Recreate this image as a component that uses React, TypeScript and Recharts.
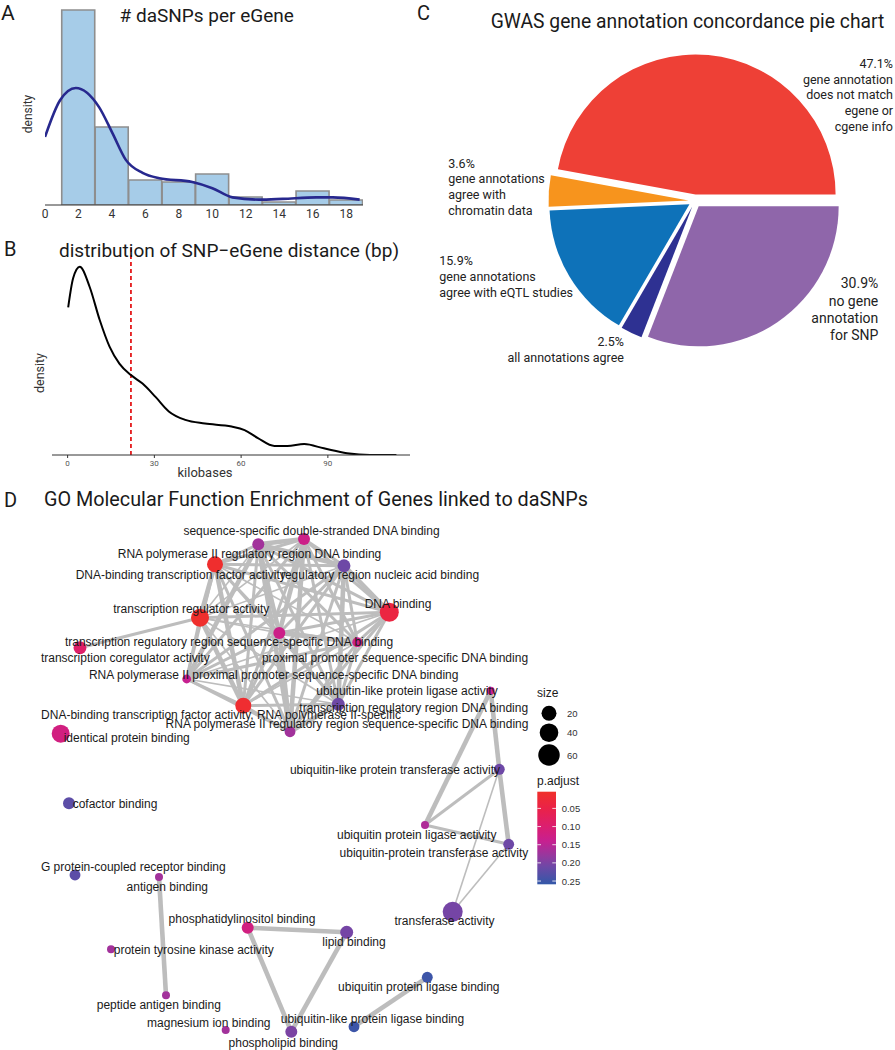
import React from "react";
import {
  Bar,
  Cell,
  ComposedChart,
  Line,
  LineChart,
  Pie,
  PieChart,
  ReferenceLine,
  Scatter,
  ScatterChart,
  XAxis,
  YAxis,
} from "recharts";

const ROBOTO = "Roboto, 'Noto Sans', sans-serif";
const HELV = "'Liberation Sans', Arial, sans-serif";

// ---- A: daSNPs per eGene (histogram, bin width 2) ----
const BIN_MIDS = [2, 4, 6, 8, 10, 12, 14, 16, 18];
const BIN_DENSITY = [0.255, 0.102, 0.0327, 0.0301, 0.0406, 0.0105, 0.0039, 0.0183, 0.0065];
const KDE_X = [0, 0.9, 1.84, 3.23, 4.03, 4.83, 5.83, 6.83, 8.8, 10, 11.2, 12.8, 14.2, 16.2, 17.2, 18.8];
const KDE_Y = [0.089, 0.137, 0.153, 0.128, 0.094, 0.059, 0.042, 0.035, 0.03, 0.022, 0.01, 0.007, 0.008, 0.01, 0.01, 0.007];
const A_TICKS = [0, 2, 4, 6, 8, 10, 12, 14, 16, 18];

// ---- B: SNP-eGene distance (kb) ----
const KB_X = [0.2, 1.9, 4.2, 7.6, 11.1, 14.5, 17.9, 21.9, 25.9, 30.4, 35, 40.7, 47.5, 56.7, 61.2, 65.8, 71.5, 76, 81.8, 88.6, 96.6, 104.6, 113.7];
const KB_DENS = [0.0244, 0.0292, 0.0311, 0.0278, 0.0223, 0.0179, 0.0151, 0.0132, 0.0118, 0.0096, 0.0072, 0.0058, 0.0052, 0.0047, 0.0041, 0.0028, 0.0015, 0.0015, 0.0018, 0.0011, 0.0003, 0, 0];
const KB_MEDIAN = 21.9;
const B_TICKS = [0, 30, 60, 90];

// ---- C: annotation concordance ----
const PIE_NAMES = [
  "gene annotation\ndoes not match\negene or\ncgene info",
  "gene annotations\nagree with\nchromatin data",
  "gene annotations\nagree with eQTL studies",
  "all annotations agree",
  "no gene\nannotation\nfor SNP",
];
const PIE_VALUES = [47.1, 3.6, 15.9, 2.5, 30.9];
const PIE_COLORS = ["#EE4036", "#F7941D", "#0E72B9", "#2E3192", "#8F66AA"];
// label placement (chart px): x, first line y, anchor, font size, line height
const PIE_LABEL_POS: [number, number, "start" | "end", number, number][] = [
  [493, 63.3, "end", 12.5, 15.8],
  [48.3, 163.3, "start", 12.5, 15.6],
  [39.3, 260, "start", 12.5, 16],
  [224, 341.7, "end", 12.5, 15.6],
  [478.3, 283.3, "end", 14, 17.2],
];

// ---- D: GO enrichment map ----
const NODE_NAMES = [
  "sequence-specific double-stranded DNA binding",
  "RNA polymerase II regulatory region DNA binding",
  "regulatory region nucleic acid binding",
  "DNA-binding transcription factor activity",
  "transcription regulator activity",
  "DNA binding",
  "transcription regulatory region sequence-specific DNA binding",
  "proximal promoter sequence-specific DNA binding",
  "transcription coregulator activity",
  "RNA polymerase II proximal promoter sequence-specific DNA binding",
  "DNA-binding transcription factor activity, RNA polymerase II-specific",
  "transcription regulatory region DNA binding",
  "RNA polymerase II regulatory region sequence-specific DNA binding",
  "identical protein binding",
  "ubiquitin-like protein ligase activity",
  "ubiquitin-like protein transferase activity",
  "ubiquitin protein ligase activity",
  "ubiquitin-protein transferase activity",
  "transferase activity",
  "cofactor binding",
  "G protein-coupled receptor binding",
  "antigen binding",
  "phosphatidylinositol binding",
  "protein tyrosine kinase activity",
  "peptide antigen binding",
  "magnesium ion binding",
  "phospholipid binding",
  "lipid binding",
  "ubiquitin protein ligase binding",
  "ubiquitin-like protein ligase binding",
];
const NODE_X = [3.04, 2.583, 3.44, 2.15, 2.0, 3.893, 2.793, 3.573, 0.8, 1.867, 2.433, 3.383, 2.9, 0.607, 4.907, 4.993, 4.25, 5.087, 4.527, 0.69, 0.75, 1.59, 2.477, 1.11, 1.66, 2.257, 2.913, 3.467, 4.273, 3.54];
const NODE_Y = [5.11, 5.057, 4.843, 4.857, 4.323, 4.377, 4.17, 4.077, 4.023, 3.71, 3.443, 3.457, 3.183, 3.163, 3.593, 2.807, 2.25, 2.057, 1.383, 2.467, 1.75, 1.73, 1.223, 1.007, 0.547, 0.2, 0.183, 1.177, 0.727, 0.233];
const NODE_SIZE = [9, 9, 12, 25, 36, 42, 9, 4, 12, 2, 25, 12, 6, 36, 1, 6, 1, 6, 49, 9, 6, 1, 9, 1, 1, 1, 9, 12, 6, 6];
const NODE_PADJ = [0.13, 0.17, 0.21, 0.01, 0.008, 0.04, 0.13, 0.13, 0.09, 0.14, 0.015, 0.21, 0.17, 0.12, 0.14, 0.21, 0.16, 0.21, 0.205, 0.225, 0.225, 0.17, 0.12, 0.17, 0.17, 0.17, 0.2, 0.205, 0.25, 0.25];
const LABEL_X = [3.115, 2.495, 3.8, 1.807, 1.913, 3.98, 2.29, 3.95, 1.253, 2.737, 2.21, 4.137, 3.47, 1.267, 4.07, 3.95, 4.167, 4.34, 4.445, 1.15, 1.333, 1.673, 2.42, 1.938, 1.588, 2.088, 2.833, 3.54, 4.188, 3.725];
const LABEL_Y = [5.193, 4.96, 4.75, 4.75, 4.407, 4.457, 4.077, 3.917, 3.917, 3.75, 3.35, 3.423, 3.26, 3.123, 3.593, 2.8, 2.15, 1.967, 1.29, 2.457, 1.827, 1.633, 1.307, 1.0, 0.45, 0.267, 0.073, 1.083, 0.633, 0.31];
// [from, to, similarity level 1-3]
const EDGES: [number, number, number][] = [
  [3, 4, 3], [3, 10, 3], [4, 10, 3], [0, 1, 3], [0, 2, 2], [0, 5, 2], [0, 6, 3], [0, 7, 2],
  [0, 9, 2], [0, 11, 2], [0, 12, 3], [0, 3, 2], [0, 4, 1], [0, 10, 2],
  [1, 2, 3], [1, 3, 2], [1, 4, 1], [1, 5, 2], [1, 6, 3], [1, 7, 2], [1, 9, 3], [1, 10, 2], [1, 11, 2], [1, 12, 3],
  [2, 3, 2], [2, 4, 1], [2, 5, 3], [2, 6, 2], [2, 7, 2], [2, 9, 2], [2, 10, 2], [2, 11, 3], [2, 12, 2],
  [3, 5, 2], [3, 6, 2], [3, 7, 1], [3, 9, 2], [3, 11, 1], [3, 12, 2],
  [4, 5, 2], [4, 6, 1], [4, 7, 1], [4, 9, 2], [4, 11, 1], [4, 12, 1], [4, 8, 2],
  [5, 6, 2], [5, 7, 2], [5, 9, 1], [5, 10, 2], [5, 11, 2], [5, 12, 2],
  [6, 7, 3], [6, 9, 2], [6, 10, 2], [6, 11, 2], [6, 12, 3],
  [7, 9, 2], [7, 10, 1], [7, 11, 2], [7, 12, 2],
  [9, 10, 2], [9, 11, 1], [9, 12, 2], [10, 11, 2], [10, 12, 2], [11, 12, 3],
  [14, 15, 3], [14, 16, 3], [15, 16, 2], [15, 17, 3], [16, 17, 2], [15, 18, 1], [17, 18, 1],
  [21, 24, 3], [22, 27, 3], [22, 26, 3], [27, 26, 3], [28, 29, 3],
];
const SIZE_LEGEND = [20, 40, 60];
const PADJ_TICKS = [0.05, 0.1, 0.15, 0.2, 0.25];
const PADJ_RANGE = [0.004, 0.259];

const P_STOPS: [number, string][] = [
  [0.004, "#F0302A"],
  [0.05, "#EA2248"],
  [0.1, "#DB1E70"],
  [0.14, "#C72090"],
  [0.18, "#96389E"],
  [0.21, "#6E48A6"],
  [0.259, "#3258A8"],
];
const EDGE_W = [0, 1.6, 3, 4.6];

function hex(c: string) {
  return [1, 3, 5].map((i) => parseInt(c.slice(i, i + 2), 16));
}
function pColor(p: number) {
  if (p <= P_STOPS[0][0]) return P_STOPS[0][1];
  for (let i = 1; i < P_STOPS.length; i++) {
    const [p1, c1] = P_STOPS[i];
    if (p <= p1) {
      const [p0, c0] = P_STOPS[i - 1];
      const t = (p - p0) / (p1 - p0);
      const a = hex(c0), b = hex(c1);
      const m = a.map((v, k) => Math.round(v + (b[k] - v) * t));
      return `rgb(${m[0]},${m[1]},${m[2]})`;
    }
  }
  return P_STOPS[P_STOPS.length - 1][1];
}
const nodeR = (s: number) => 3 + Math.sqrt(s);

function Txt({ x, y, size, children, anchor = "middle", rotate = 0, family = ROBOTO, color = "#1a1a1a" }: any) {
  const tx = anchor === "middle" ? "-50%" : anchor === "end" ? "-100%" : "0";
  return (
    <div
      style={{
        position: "absolute", left: x, top: y, fontSize: size, fontFamily: family, color,
        lineHeight: 1, whiteSpace: "nowrap", transform: `translate(${tx}, -50%) rotate(${rotate}deg)`,
      }}
    >
      {children}
    </div>
  );
}

function PanelA() {
  const bins = BIN_MIDS.map((mid, i) => ({ mid, density: BIN_DENSITY[i] }));
  const kde = KDE_X.map((x, i) => ({ x, kde: KDE_Y[i] }));
  return (
    <ComposedChart width={370} height={226} data={bins} margin={{ top: 0, right: 7, bottom: 0, left: 45 }} barCategoryGap={0}>
      <XAxis xAxisId="bins" dataKey="mid" type="number" domain={[0, 19]} allowDataOverflow hide height={0} />
      <XAxis
        xAxisId="x" dataKey="x" type="number" domain={[0, 19]} allowDataOverflow ticks={A_TICKS} interval={0}
        height={21} tickLine={false} tickSize={2} tickMargin={2} stroke="#333"
        tick={{ fontSize: 12, fill: "#333", fontFamily: ROBOTO }}
      />
      <YAxis domain={[0, 0.268]} width={0} tick={false} tickLine={false} stroke="#333" allowDataOverflow />
      <Bar xAxisId="bins" dataKey="density" fill="#A6CCE8" stroke="#8E8E8E" strokeWidth={1.6} isAnimationActive={false} />
      <Line xAxisId="x" data={kde} dataKey="kde" type="monotone" stroke="#27288E" strokeWidth={2.6} dot={false} isAnimationActive={false} />
    </ComposedChart>
  );
}

function PanelB() {
  const data = KB_X.map((kb, i) => ({ kb, d: KB_DENS[i] }));
  return (
    <LineChart width={420} height={260} data={data} margin={{ top: 28, right: 10, bottom: 0, left: 52 }}>
      <XAxis
        dataKey="kb" type="number" domain={[-5.4, 118.4]} allowDataOverflow ticks={B_TICKS} height={25}
        tickSize={3} tickMargin={2} stroke="#333" tick={{ fontSize: 8, fill: "#555", fontFamily: ROBOTO }}
      />
      <YAxis domain={[0, 0.0342]} width={0} tick={false} tickLine={false} stroke="#333" allowDataOverflow />
      <ReferenceLine x={KB_MEDIAN} stroke="#E41A1C" strokeWidth={1.8} strokeDasharray="4 3" />
      <Line dataKey="d" type="monotone" stroke="#000" strokeWidth={2} dot={false} isAnimationActive={false} />
    </LineChart>
  );
}

function PanelC() {
  const data = PIE_NAMES.map((name, i) => ({ name, value: PIE_VALUES[i] }));
  const total = PIE_VALUES.reduce((a, v) => a + v, 0);
  let acc = 0;
  const shifts = PIE_VALUES.map((v) => {
    const mid = ((acc + v / 2) / total) * 2 * Math.PI;
    acc += v;
    return [6.5 * Math.cos(mid), -6.5 * Math.sin(mid)];
  });
  const renderLabel = (props: any) => {
    const i = props.index;
    const [x, y, anchor, size, lh] = PIE_LABEL_POS[i];
    const lines = [`${PIE_VALUES[i].toFixed(1)}%`, ...PIE_NAMES[i].split("\n")];
    return (
      <g key={`lab${i}`}>
        {lines.map((t, k) => (
          <text key={k} x={x} y={y + k * lh} textAnchor={anchor} dominantBaseline="central" fontSize={size} fontFamily={ROBOTO} fill="#222">
            {t}
          </text>
        ))}
      </g>
    );
  };
  return (
    <PieChart width={495} height={400} margin={{ top: 0, right: 0, bottom: 0, left: 0 }}>
      <Pie
        data={data} dataKey="value" nameKey="name" cx={295} cy={201} outerRadius={140}
        startAngle={0} endAngle={360} stroke="none" label={renderLabel} labelLine={false} isAnimationActive={false}
      >
        {data.map((d, i) => (
          <Cell key={d.name} fill={PIE_COLORS[i]} transform={`translate(${shifts[i][0]} ${shifts[i][1]})`} />
        ))}
      </Pie>
    </PieChart>
  );
}

function PanelD() {
  const nodes = NODE_NAMES.map((name, i) => ({ name, x: NODE_X[i], y: NODE_Y[i], size: NODE_SIZE[i], p: NODE_PADJ[i] }));
  const labels = NODE_NAMES.map((name, i) => ({ name, x: LABEL_X[i], y: LABEL_Y[i] }));
  return (
    <ScatterChart width={600} height={540} margin={{ top: 0, right: 0, bottom: 0, left: 0 }}>
      <XAxis dataKey="x" type="number" domain={[0, 6]} allowDataOverflow hide />
      <YAxis dataKey="y" type="number" domain={[0, 5.4]} allowDataOverflow hide />
      {EDGES.map(([a, b, w], i) => (
        <Scatter
          key={`e${i}`}
          data={[{ x: NODE_X[a], y: NODE_Y[a] }, { x: NODE_X[b], y: NODE_Y[b] }]}
          line={{ stroke: "#BDBDBD", strokeWidth: EDGE_W[w] }}
          shape={() => <g />}
          isAnimationActive={false}
        />
      ))}
      <Scatter
        data={nodes}
        isAnimationActive={false}
        shape={(p: any) => <circle cx={p.cx} cy={p.cy} r={nodeR(p.payload.size)} fill={pColor(p.payload.p)} />}
      />
      <Scatter
        data={labels}
        isAnimationActive={false}
        shape={(p: any) => (
          <text x={p.cx} y={p.cy} textAnchor="middle" dominantBaseline="central" fontSize={12} fontFamily={HELV} fill="#1a1a1a">
            {p.payload.name}
          </text>
        )}
      />
    </ScatterChart>
  );
}

function LegendD() {
  const [lo, hi] = PADJ_RANGE;
  const top = 111.7, h = 92.6;
  const yOf = (p: number) => top + ((p - lo) / (hi - lo)) * h;
  return (
    <svg width={90} height={220} style={{ position: "absolute", left: 530, top: 680 }}>
      <defs>
        <linearGradient id="padj" x1="0" y1="0" x2="0" y2="1">
          {P_STOPS.map(([p, c]) => (
            <stop key={p} offset={(p - lo) / (hi - lo)} stopColor={c} />
          ))}
        </linearGradient>
      </defs>
      <text x={7} y={13.3} dominantBaseline="central" fontSize={12} fontFamily={HELV} fill="#1a1a1a">size</text>
      {SIZE_LEGEND.map((s, i) => (
        <g key={s}>
          <circle cx={19} cy={[33.3, 52.7, 75][i]} r={nodeR(s)} fill="#000" />
          <text x={37} y={[33.3, 52.7, 75][i]} dominantBaseline="central" fontSize={9.5} fontFamily={HELV} fill="#333">{s}</text>
        </g>
      ))}
      <text x={7} y={100.7} dominantBaseline="central" fontSize={12} fontFamily={HELV} fill="#1a1a1a">p.adjust</text>
      <rect x={7.3} y={top} width={18.7} height={h} fill="url(#padj)" />
      {PADJ_TICKS.map((t) => (
        <g key={t}>
          <line x1={7.3} x2={11} y1={yOf(t)} y2={yOf(t)} stroke="#fff" strokeWidth={0.8} />
          <line x1={22.3} x2={26} y1={yOf(t)} y2={yOf(t)} stroke="#fff" strokeWidth={0.8} />
          <text x={31.7} y={yOf(t)} dominantBaseline="central" fontSize={9.5} fontFamily={HELV} fill="#333">
            {t.toFixed(2)}
          </text>
        </g>
      ))}
    </svg>
  );
}

export default function App() {
  return (
    <div style={{ position: "absolute", left: 0, top: 0, width: 895, height: 1050, background: "#fff", overflow: "hidden" }}>
      <div style={{ position: "absolute", left: 0, top: 0 }}><PanelA /></div>
      <div style={{ position: "absolute", left: 0, top: 220 }}><PanelB /></div>
      <div style={{ position: "absolute", left: 400, top: 0 }}><PanelC /></div>
      <div style={{ position: "absolute", left: 0, top: 510 }}><PanelD /></div>
      <LegendD />

      <Txt x={1} y={12.5} size={21} anchor="start">A</Txt>
      <Txt x={206.7} y={15} size={19}># daSNPs per eGene</Txt>
      <Txt x={28.3} y={114} size={12} rotate={-90} color="#333">density</Txt>

      <Txt x={4} y={249} size={20} anchor="start">B</Txt>
      <Txt x={229} y={250} size={19}>distribution of SNP−eGene distance (bp)</Txt>
      <Txt x={40} y={373} size={12.5} rotate={-90} color="#333">density</Txt>
      <Txt x={205} y={472} size={13} color="#333">kilobases</Txt>

      <Txt x={417} y={13.3} size={20} anchor="start">C</Txt>
      <Txt x={687.5} y={21.7} size={19.3}>GWAS gene annotation concordance pie chart</Txt>

      <Txt x={4} y={500} size={20} anchor="start">D</Txt>
      <Txt x={316} y={500} size={19.8}>GO Molecular Function Enrichment of Genes linked to daSNPs</Txt>
    </div>
  );
}
